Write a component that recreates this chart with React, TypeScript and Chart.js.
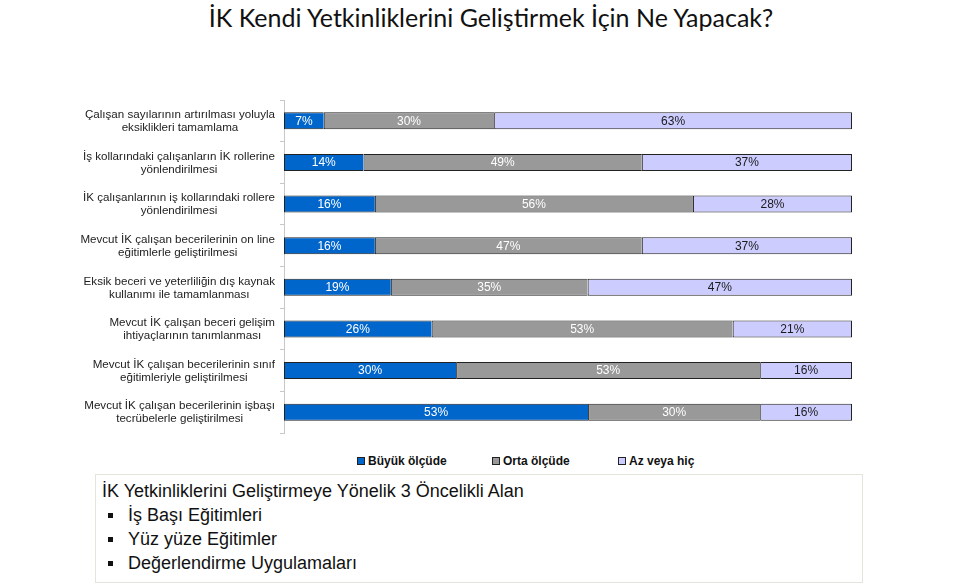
import React, { useEffect, useRef } from "react";
import { Chart, registerables } from "chart.js";

Chart.register(...registerables);

const TITLE = "İK Kendi Yetkinliklerini Geliştirmek İçin Ne Yapacak?";

const CATEGORIES: string[][] = [
  ["Çalışan sayılarının artırılması yoluyla", "eksiklikleri tamamlama"],
  ["İş kollarındaki çalışanların İK rollerine", "yönlendirilmesi"],
  ["İK çalışanlarının iş kollarındaki rollere", "yönlendirilmesi"],
  ["Mevcut İK çalışan becerilerinin on line", "eğitimlerle geliştirilmesi"],
  ["Eksik beceri ve yeterliliğin dış kaynak", "kullanımı ile tamamlanması"],
  ["Mevcut İK çalışan beceri gelişim", "ihtiyaçlarının tanımlanması"],
  ["Mevcut İK çalışan becerilerinin sınıf", "eğitimleriyle geliştirilmesi"],
  ["Mevcut İK çalışan becerilerinin işbaşı", "tecrübelerle geliştirilmesi"],
];

const SERIES = ["Büyük ölçüde", "Orta ölçüde", "Az veya hiç"];
const BUYUK = [7, 14, 16, 16, 19, 26, 30, 53];
const ORTA = [30, 49, 56, 47, 35, 53, 53, 30];
const AZ = [63, 37, 28, 37, 47, 21, 16, 16];

const COLORS = ["#0066CC", "#999999", "#CCCCFF"];
const LABEL_COLORS = ["#ffffff", "#ffffff", "#1a1a1a"];

const PRIORITY_TITLE = "İK Yetkinliklerini Geliştirmeye Yönelik 3 Öncelikli Alan";
const PRIORITIES = ["İş Başı Eğitimleri", "Yüz yüze Eğitimler", "Değerlendirme Uygulamaları"];

const FONT = '"Liberation Sans", Arial, Helvetica, sans-serif';

const RAW = [BUYUK, ORTA, AZ];
const TOTALS = BUYUK.map((_, i) => BUYUK[i] + ORTA[i] + AZ[i]);

const categoryLabelPlugin = {
  id: "catLabels",
  afterDraw(chart: any) {
    const y = chart.scales.y;
    const ctx = chart.ctx;
    ctx.save();
    ctx.font = "11.6px " + FONT;
    ctx.fillStyle = "#222222";
    ctx.textAlign = "center";
    ctx.textBaseline = "middle";
    const right = chart.chartArea.left - 9;
    const lh = 13;
    (chart.data.labels as string[][]).forEach((lines, i) => {
      const cy = y.getPixelForValue(i);
      const w = Math.max(...lines.map((l) => ctx.measureText(l).width));
      const cx = right - w / 2;
      lines.forEach((l, k) => ctx.fillText(l, cx, cy + 0.5 + (k - (lines.length - 1) / 2) * lh));
    });
    ctx.restore();
  },
};

const valueLabelPlugin = {
  id: "valLabels",
  afterDatasetsDraw(chart: any) {
    const ctx = chart.ctx;
    ctx.save();
    ctx.font = "12px " + FONT;
    ctx.textAlign = "center";
    ctx.textBaseline = "middle";
    chart.data.datasets.forEach((_ds: any, di: number) => {
      const meta = chart.getDatasetMeta(di);
      meta.data.forEach((el: any, i: number) => {
        const p = el.getCenterPoint();
        ctx.fillStyle = LABEL_COLORS[di];
        ctx.fillText(RAW[di][i] + "%", p.x, p.y + 0.5);
      });
    });
    ctx.restore();
  },
};

export default function App() {
  const ref = useRef<HTMLCanvasElement | null>(null);

  useEffect(() => {
    if (!ref.current) return;
    const datasets = SERIES.map((name, di) => ({
      label: name,
      data: RAW[di].map((v, i) => (v / TOTALS[i]) * 100),
      backgroundColor: COLORS[di],
      borderColor: "#222222",
      borderWidth: di === 2 ? { top: 1, bottom: 1, left: 1, right: 1 } : { top: 1, bottom: 1, left: 1, right: 0 },
      borderSkipped: false,
      barThickness: 17,
      inflateAmount: 0,
    }));
    const chart = new Chart(ref.current, {
      type: "bar",
      data: { labels: CATEGORIES, datasets },
      options: {
        animation: false,
        responsive: true,
        maintainAspectRatio: false,
        indexAxis: "y",
        layout: { padding: { left: 280, right: 108, top: 100, bottom: 17 } },
        plugins: {
          legend: { display: false },
          title: { display: false },
          tooltip: { enabled: false },
        },
        scales: {
          x: { stacked: true, min: 0, max: 100, display: false },
          y: {
            stacked: true,
            grid: { drawOnChartArea: false, drawTicks: true, tickLength: 4, color: "#c8c8c8", offset: true },
            border: { display: true, color: "#c8c8c8" },
            ticks: { display: false },
          },
        },
      },
      plugins: [categoryLabelPlugin, valueLabelPlugin],
    } as any);
    return () => chart.destroy();
  }, []);

  return (
    <div style={{ position: "absolute", left: 0, top: 0, width: 960, height: 587, background: "#fff", overflow: "hidden" }}>
      <div
        style={{
          position: "absolute",
          left: 0,
          top: 0,
          width: 982,
          textAlign: "center",
          fontFamily: "Lato, 'Open Sans', sans-serif",
          fontSize: 25,
          lineHeight: "34px",
          color: "#111",
          whiteSpace: "nowrap",
        }}
      >
        {TITLE}
      </div>
      <div style={{ position: "absolute", left: 0, top: 0, width: 960, height: 450 }}>
        <canvas ref={ref} />
      </div>
      {SERIES.map((name, i) => (
        <div
          key={name}
          style={{
            position: "absolute",
            left: [357, 492, 618][i],
            top: 452,
            height: 17,
            display: "flex",
            alignItems: "center",
            fontFamily: FONT,
            fontWeight: "bold",
            fontSize: 12,
            color: "#111",
            whiteSpace: "nowrap",
          }}
        >
          <span
            style={{
              display: "inline-block",
              width: 8,
              height: 8,
              boxSizing: "border-box",
              border: "1px solid #222",
              background: COLORS[i],
              marginRight: 3,
            }}
          />
          {name}
        </div>
      ))}
      <div
        style={{
          position: "absolute",
          left: 95,
          top: 474,
          width: 768,
          height: 109,
          boxSizing: "border-box",
          border: "1px solid #e4e4dc",
          padding: "4px 0 0 6px",
          fontFamily: FONT,
          fontSize: 18,
          lineHeight: "24px",
          color: "#111",
        }}
      >
        <div style={{ whiteSpace: "nowrap" }}>{PRIORITY_TITLE}</div>
        {PRIORITIES.map((p) => (
          <div key={p} style={{ display: "flex", alignItems: "center", whiteSpace: "nowrap" }}>
            <span style={{ display: "inline-block", width: 5, height: 5, background: "#111", marginLeft: 6, marginRight: 15 }} />
            {p}
          </div>
        ))}
      </div>
    </div>
  );
}
